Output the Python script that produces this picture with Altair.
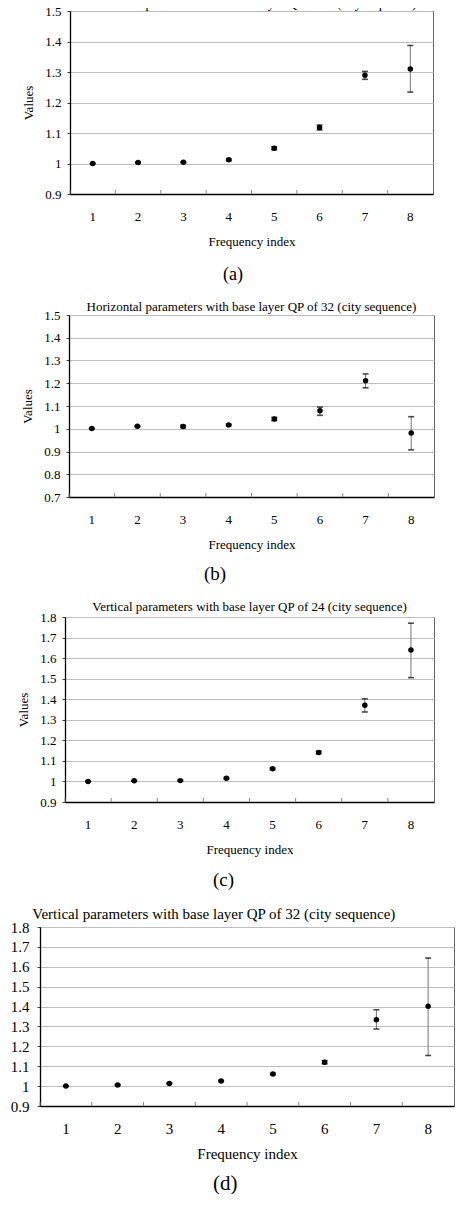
import altair as alt
import pandas as pd

FONT = "Liberation Serif"

freq_index = [1, 2, 3, 4, 5, 6, 7, 8]

# (a) Horizontal, QP 24
mean_a = [1.000, 1.003, 1.004, 1.012, 1.050, 1.118, 1.289, 1.310]
lo_a = [0.999, 1.001, 1.002, 1.009, 1.045, 1.110, 1.276, 1.234]
hi_a = [1.001, 1.005, 1.006, 1.015, 1.055, 1.126, 1.302, 1.387]
yticks_a = [0.9, 1.0, 1.1, 1.2, 1.3, 1.4, 1.5]

# (b) Horizontal, QP 32
mean_b = [1.001, 1.011, 1.010, 1.017, 1.043, 1.079, 1.211, 0.981]
lo_b = [1.000, 1.009, 1.005, 1.014, 1.036, 1.059, 1.180, 0.907]
hi_b = [1.002, 1.013, 1.015, 1.020, 1.050, 1.095, 1.241, 1.053]
yticks_b = [0.7, 0.8, 0.9, 1.0, 1.1, 1.2, 1.3, 1.4, 1.5]

# (c) Vertical, QP 24
mean_c = [1.000, 1.003, 1.004, 1.015, 1.062, 1.141, 1.371, 1.640]
lo_c = [0.999, 1.002, 1.001, 1.011, 1.058, 1.135, 1.338, 1.505]
hi_c = [1.001, 1.004, 1.007, 1.019, 1.066, 1.147, 1.402, 1.770]
yticks_c = [0.9, 1.0, 1.1, 1.2, 1.3, 1.4, 1.5, 1.6, 1.7, 1.8]

# (d) Vertical, QP 32
mean_d = [1.000, 1.006, 1.013, 1.026, 1.061, 1.120, 1.334, 1.401]
lo_d = [0.999, 1.004, 1.010, 1.023, 1.057, 1.112, 1.287, 1.154]
hi_d = [1.001, 1.008, 1.016, 1.029, 1.065, 1.128, 1.384, 1.644]
yticks_d = [0.9, 1.0, 1.1, 1.2, 1.3, 1.4, 1.5, 1.6, 1.7, 1.8]

titles = [
    "Horizontal parameters with base layer QP of 24 (city sequence)",
    "Horizontal parameters with base layer QP of 32 (city sequence)",
    "Vertical parameters with base layer QP of 24 (city sequence)",
    "Vertical parameters with base layer QP of 32 (city sequence)",
]
sublabels = ["(a)", "(b)", "(c)", "(d)"]
x_title = "Frequency index"
y_title = "Values"


def spacer(w):
    # empty view used only to shift a panel to the right
    return alt.Chart(pd.DataFrame({"s": [0]})).mark_point(opacity=0).encode(
        x=alt.X("s:Q", axis=None), y=alt.Y("s:Q", axis=None)
    ).transform_filter("false").properties(
        width=w, height=1, view=alt.ViewBackground(strokeOpacity=0))


def panel(mean, lo, hi, yticks, title, sub, left, width, height, fs, title_fs,
          title_offset, title_anchor, title_dx, ytitle, ytitle_pad,
          ylab_pad, xlab_pad, xtitle_pad, sub_fs, sub_offset, sub_dx):
    df = pd.DataFrame({"idx": freq_index, "mean": mean, "lo": lo, "hi": hi})
    xscale = alt.Scale(type="band", paddingInner=0, paddingOuter=0)
    yscale = alt.Scale(domain=[yticks[0], yticks[-1]], nice=False, zero=False)
    xaxis = alt.Axis(labelAngle=0, ticks=False, tickSize=0, labelPadding=xlab_pad,
                     title=x_title, titlePadding=xtitle_pad, domainColor="black",
                     domainWidth=1.3, grid=False, labelFontSize=fs, titleFontSize=fs)
    yargs = dict(values=yticks, tickCount=40, format="~g", grid=True,
                 gridColor="#bdbdbd", gridWidth=1, tickColor="#444", tickSize=3,
                 labelPadding=ylab_pad, labelOverlap=False, domainColor="black",
                 domainWidth=1.3, labelFontSize=fs)
    if ytitle:
        yargs.update(title=y_title, titlePadding=ytitle_pad, titleFontSize=fs)
    else:
        yargs.update(title=None)
    yaxis = alt.Axis(**yargs)
    base = alt.Chart(df)
    x = alt.X("idx:O", scale=xscale, axis=xaxis)
    bars = base.mark_rule(color="#777777", strokeWidth=1).encode(
        x=x, y=alt.Y("lo:Q", scale=yscale, axis=yaxis), y2="hi:Q")
    cap_lo = base.mark_tick(color="black", size=6, thickness=1.6).encode(
        x=x, y=alt.Y("lo:Q", scale=yscale))
    cap_hi = base.mark_tick(color="black", size=6, thickness=1.6).encode(
        x=x, y=alt.Y("hi:Q", scale=yscale))
    pts = base.mark_circle(color="black", size=30, opacity=1).encode(
        x=x, y=alt.Y("mean:Q", scale=yscale))
    bticks = base.mark_rule(color="#888888", strokeWidth=1).encode(
        x=alt.X("idx:O", bandPosition=0, scale=xscale),
        y=alt.value(height), y2=alt.value(height - 4))
    layer = alt.layer(bars, bticks, cap_lo, cap_hi, pts).properties(
        width=width, height=height,
        view=alt.ViewBackground(stroke="#666666", strokeWidth=1, strokeOpacity=1),
        title=alt.TitleParams(title, fontSize=title_fs, offset=title_offset,
                              anchor=title_anchor, dx=title_dx, font=FONT,
                              fontWeight="normal", color="black"))
    return alt.hconcat(spacer(left), layer, spacing=0, title=alt.TitleParams(
        sub, orient="bottom", anchor="start", dx=sub_dx, fontSize=sub_fs,
        offset=sub_offset, font=FONT, fontWeight="normal", color="black"))


pa = panel(mean_a, lo_a, hi_a, yticks_a, titles[0], sublabels[0], 14, 363, 183, 13, 13,
           -6.4, "middle", 0, True, 9, 6, 16, 12.5, 18, 17, 215)
pb = panel(mean_b, lo_b, hi_b, yticks_b, titles[1], sublabels[1], 13, 365, 182, 13, 13,
           -4.5, "middle", 0, True, 9, 6, 16, 12.5, 19, 13, 196)
pc = panel(mean_c, lo_c, hi_c, yticks_c, titles[2], sublabels[2], 9, 369, 185, 13, 13,
           -2.5, "middle", 0, True, 9, 6, 16, 12.5, 19, 14, 205)
pd_ = panel(mean_d, lo_d, hi_d, yticks_d, titles[3], sublabels[3], 1, 414, 179, 15, 15,
            -1.5, "start", 22, False, 0, 8, 15, 10, 21, 11.5, 205)

chart = alt.vconcat(pa, pb, pc, pd_, spacing=16).properties(
    padding={"left": 0, "top": -11, "right": 0, "bottom": 0}
).configure_view(strokeOpacity=0).configure_axis(
    labelFont=FONT, titleFont=FONT, labelColor="black", titleColor="black",
    titleFontWeight="normal"
).configure_title(font=FONT, color="black", fontWeight="normal")

chart.save("out.html", embed_options={"renderer": "svg", "actions": False})
